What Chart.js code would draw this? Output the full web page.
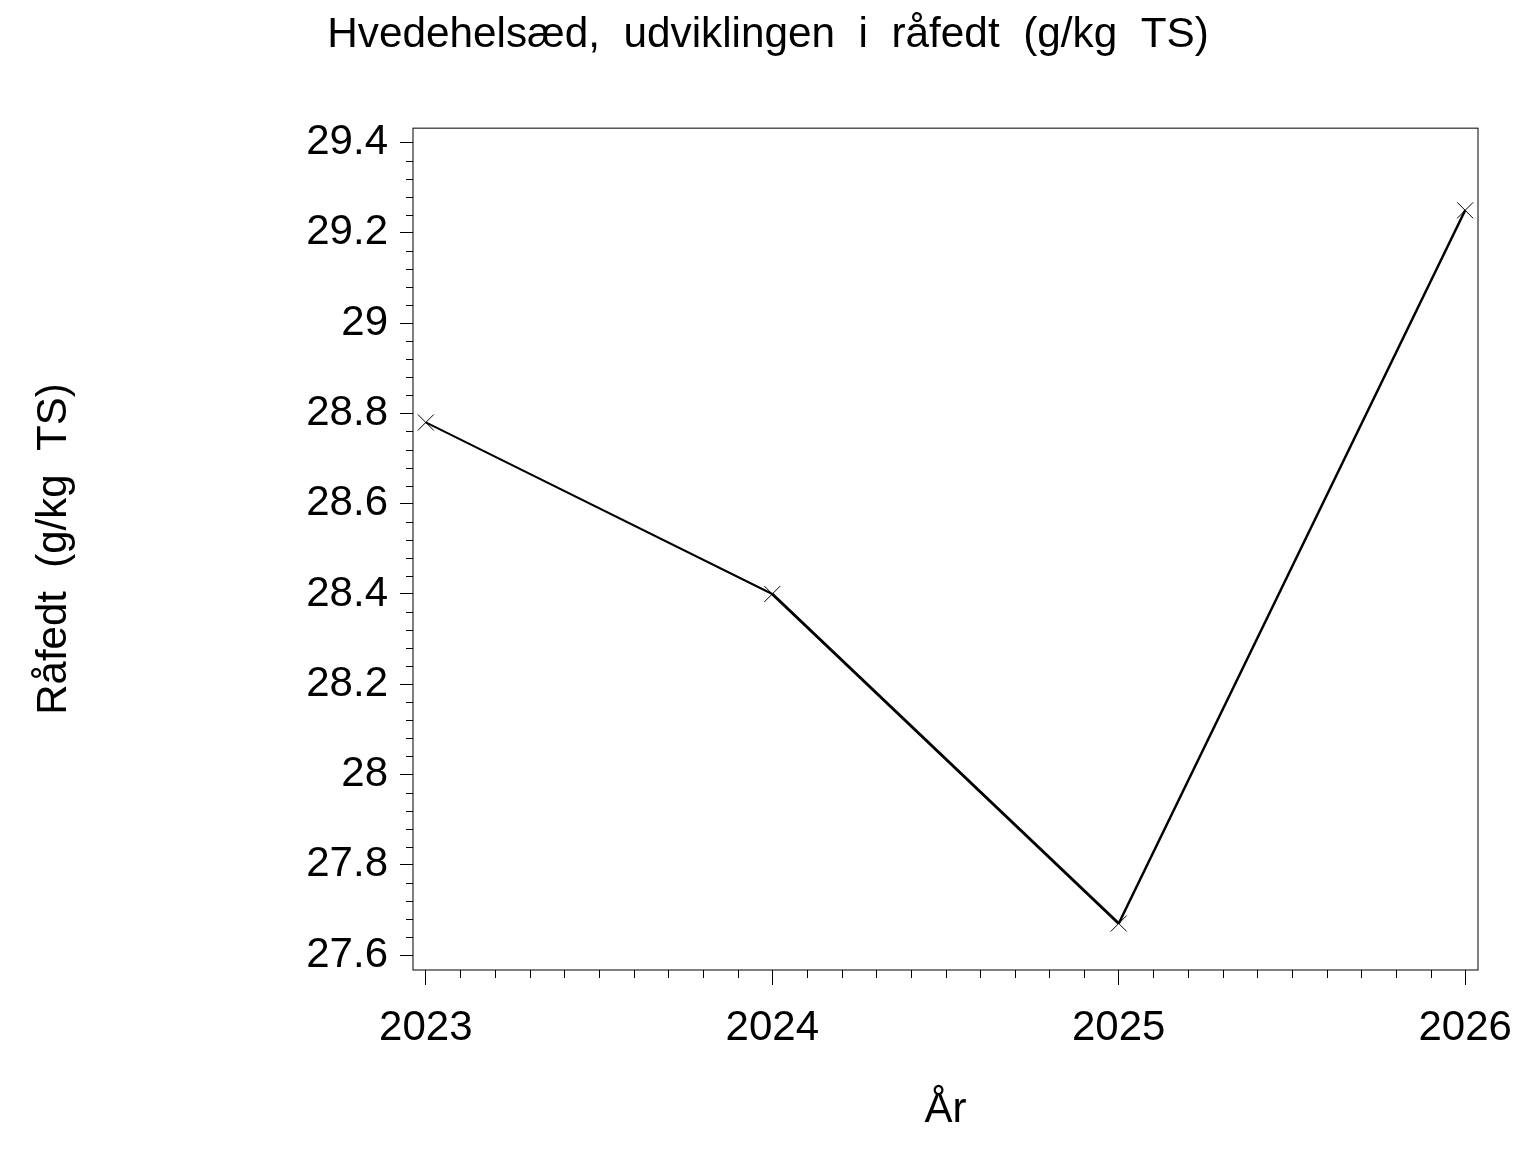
<!DOCTYPE html>
<html lang="da">
<head>
<meta charset="UTF-8">
<title>Hvedehelsæd, råfedt</title>
<script src="https://cdn.jsdelivr.net/npm/chart.js"></script>
<style>
  body { margin: 0; background: #fff; }
  canvas { display: block; }
</style>
</head>
<body>
<canvas id="chart" width="1536" height="1152"></canvas>
<script>
  // data
  const years = [2023, 2024, 2025, 2026];
  const raafedt = [28.78, 28.40, 27.67, 29.25];
  const yTicks = [27.6, 27.8, 28.0, 28.2, 28.4, 28.6, 28.8, 29.0, 29.2, 29.4];
  const xTicks = [2023, 2024, 2025, 2026];

  const FONT = "'Liberation Sans', Arial, sans-serif";
  const segWidths = [2, 3, 2.5];

  // ramme rundt om plotområdet + små mellemstreger
  const framePlugin = {
    id: 'frame',
    afterDraw(chart) {
      const { ctx, chartArea: a } = chart;
      const xs = chart.scales.x, ys = chart.scales.y;
      ctx.save();
      ctx.strokeStyle = '#000';
      ctx.lineWidth = 1;
      ctx.strokeRect(a.left, a.top, a.right - a.left, a.bottom - a.top);
      ctx.beginPath();
      // y: 4 mellemstreger pr. 0.2
      for (let i = 0; i < yTicks.length - 1; i++) {
        for (let k = 1; k < 5; k++) {
          const py = Math.round(ys.getPixelForValue(yTicks[i] + k * 0.04)) + 0.5;
          ctx.moveTo(a.left - 7, py);
          ctx.lineTo(a.left, py);
        }
      }
      // x: 9 mellemstreger pr. år
      for (let i = 0; i < xTicks.length - 1; i++) {
        for (let k = 1; k < 10; k++) {
          const px = Math.round(xs.getPixelForValue(xTicks[i] + k * 0.1)) + 0.5;
          ctx.moveTo(px, a.bottom);
          ctx.lineTo(px, a.bottom + 8);
        }
      }
      ctx.stroke();
      ctx.restore();
    }
  };

  const ctx = document.querySelector('#chart');
  const chart = new Chart(ctx, {
    type: 'line',
    data: {
      datasets: [{
        label: 'Råfedt',
        data: years.map((y, i) => ({ x: y, y: raafedt[i] })),
        borderColor: '#000',
        borderWidth: 2,
        segment: {
          borderWidth: c => segWidths[c.p0DataIndex]
        },
        pointStyle: 'crossRot',
        pointRadius: 11.3,
        pointBorderWidth: 1,
        pointBorderColor: '#000',
        pointBackgroundColor: '#000',
        tension: 0
      }]
    },
    options: {
      responsive: false,
      animation: false,
      devicePixelRatio: 1,
      layout: { padding: 0 },
      plugins: {
        legend: { display: false },
        tooltip: { enabled: false },
        title: {
          display: true,
          text: 'Hvedehelsæd,  udviklingen  i  råfedt  (g/kg  TS)',
          color: '#000',
          font: { family: FONT, size: 42.3, weight: 'normal', lineHeight: 1.2 },
          padding: { top: 10, bottom: 67.4 }
        }
      },
      scales: {
        x: {
          type: 'linear',
          min: 2022.963,
          max: 2026.037,
          afterBuildTicks: s => { s.ticks = xTicks.map(v => ({ value: v })); },
          afterFit: s => { s.height = 182; },
          border: { display: false },
          grid: { drawOnChartArea: false, drawTicks: true, tickLength: 15, color: '#000', tickWidth: 1 },
          ticks: {
            color: '#000',
            padding: 18,
            maxRotation: 0,
            font: { family: FONT, size: 42, lineHeight: 1.2 },
            callback: v => String(v)
          },
          title: {
            display: true,
            text: 'År',
            color: '#000',
            font: { family: FONT, size: 42, lineHeight: 1.2 },
            padding: { top: 0, bottom: 16 }
          }
        },
        y: {
          type: 'linear',
          min: 27.567,
          max: 29.432,
          afterBuildTicks: s => { s.ticks = yTicks.map(v => ({ value: v })); },
          afterFit: s => { s.width = 413; },
          border: { display: false },
          grid: { drawOnChartArea: false, drawTicks: true, tickLength: 13, color: '#000', tickWidth: 1 },
          ticks: {
            color: '#000',
            padding: 12,
            font: { family: FONT, size: 42, lineHeight: 1.2 },
            callback: v => String(Math.round(v * 10) / 10)
          },
          title: {
            display: true,
            text: 'Råfedt  (g/kg  TS)',
            color: '#000',
            font: { family: FONT, size: 42, lineHeight: 1.2 },
            padding: { top: 29, bottom: 0 }
          }
        },
        // tom akse til højre, giver luft til "2026" uden at flytte titlen
        yPad: {
          type: 'linear',
          position: 'right',
          min: 27.567,
          max: 29.432,
          afterFit: s => { s.width = 58; },
          border: { display: false },
          grid: { display: false },
          ticks: { display: false }
        }
      }
    },
    plugins: [framePlugin]
  });
</script>
</body>
</html>
